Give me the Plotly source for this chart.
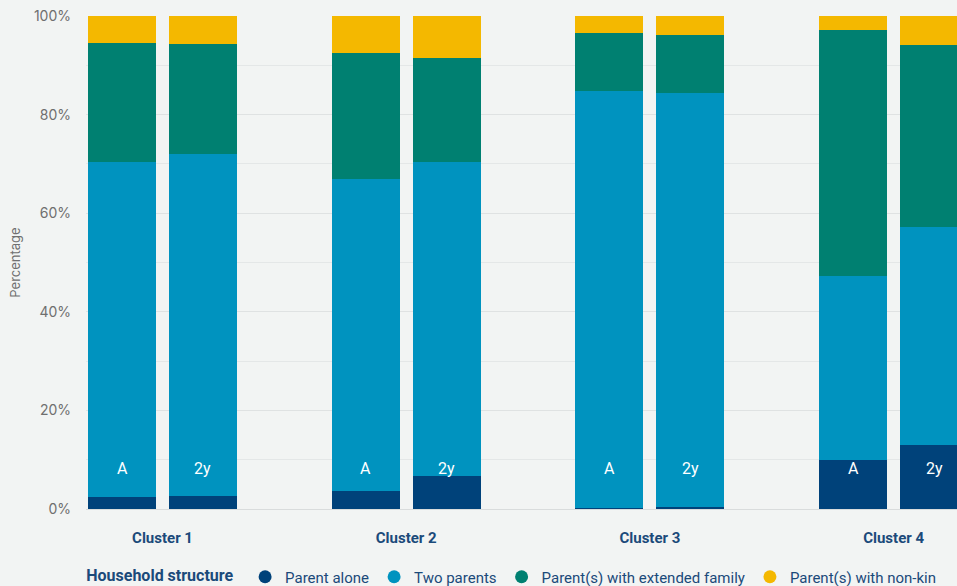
import plotly.graph_objects as go

# Household structure by cluster, at two survey points (A and 2y)
clusters = ["Cluster 1", "Cluster 2", "Cluster 3", "Cluster 4"]
periods = ["A", "2y"]

# Share of households (%), ordered cluster by cluster: [C1 A, C1 2y, C2 A, C2 2y, ...]
parent_alone = [2.4, 2.6, 3.7, 6.6, 0.2, 0.5, 9.9, 13.0]
two_parents = [67.9, 69.4, 63.3, 63.7, 84.5, 83.9, 37.4, 44.3]
extended_family = [24.2, 22.3, 25.5, 21.2, 11.8, 11.8, 49.9, 36.8]
non_kin = [5.5, 5.7, 7.5, 8.5, 3.5, 3.8, 2.8, 5.9]

series = [
    ("Parent alone", parent_alone, "#00427a"),
    ("Two parents", two_parents, "#0093bf"),
    ("Parent(s) with extended family", extended_family, "#008071"),
    ("Parent(s) with non-kin", non_kin, "#f4b800"),
]

# Each cluster sits at an integer position; the two periods are offset either side
period_offset = {"A": -0.166, "2y": 0.166}
bar_width = 0.279
xpos = [ci + period_offset[p] for ci in range(len(clusters)) for p in periods]
xlabels = [p for _ in clusters for p in periods]

fig = go.Figure()
for name, vals, color in series:
    fig.add_trace(go.Bar(
        x=xpos, y=vals, name=name, width=bar_width, showlegend=False,
        marker=dict(color=color, line=dict(width=0)),
        hoverinfo="name+y",
    ))
# Round legend keys
for name, vals, color in series:
    fig.add_trace(go.Scatter(
        x=[None], y=[None], mode="markers", name=name,
        marker=dict(symbol="circle", size=13, color=color),
    ))

# Period labels inside the base of each bar
for x, lab in zip(xpos, xlabels):
    fig.add_annotation(x=x, y=8.2, text=lab, showarrow=False,
                       font=dict(family="Roboto, sans-serif", size=16, color="white"))

bg = "#f2f4f3"
fig.update_layout(
    barmode="stack",
    width=957, height=586,
    margin=dict(l=86, r=0, t=16, b=77, autoexpand=False),
    paper_bgcolor=bg, plot_bgcolor=bg,
    bargap=0,
    showlegend=True,
    legend=dict(
        orientation="h", x=-0.002, xanchor="left", y=-0.1045, yanchor="top",
        title=dict(text="<b>Household structure</b> ",
                   font=dict(family="Roboto, sans-serif", size=16, color="#1b4a7a")),
        font=dict(family="Roboto, sans-serif", size=15, color="#1b4a7a"),
        traceorder="normal",
        bgcolor="rgba(0,0,0,0)", itemwidth=30,
    ),
    font=dict(family="Roboto, sans-serif"),
)
fig.update_xaxes(
    range=[-0.314, 3.26],
    tickvals=list(range(len(clusters))),
    ticktext=[f"<b>{c}</b>" for c in clusters],
    tickfont=dict(family="Roboto, sans-serif", size=15, color="#1b4a7a"),
    ticks="", ticklabelstandoff=18,
    showgrid=False, zeroline=False, showline=False,
)
fig.update_yaxes(
    range=[0, 100],
    tickvals=[0, 20, 40, 60, 80, 100],
    ticktext=["0%", "20%", "40%", "60%", "80%", "100%"],
    tickfont=dict(family="Inter, sans-serif", size=14, color="#6f6f6f"),
    showgrid=True, gridcolor="#dfe2e2", gridwidth=1,
    minor=dict(showgrid=True, gridcolor="#e4e7e7", tickvals=[10, 30, 50, 70, 90]),
    zeroline=True, zerolinecolor="#d9dcdc", zerolinewidth=1,
    ticks="", ticklabelstandoff=14,
    title=dict(text="Percentage", font=dict(family="Inter, sans-serif", size=13, color="#6f6f6f"),
               standoff=10),
)

fig.write_html("out.html")
